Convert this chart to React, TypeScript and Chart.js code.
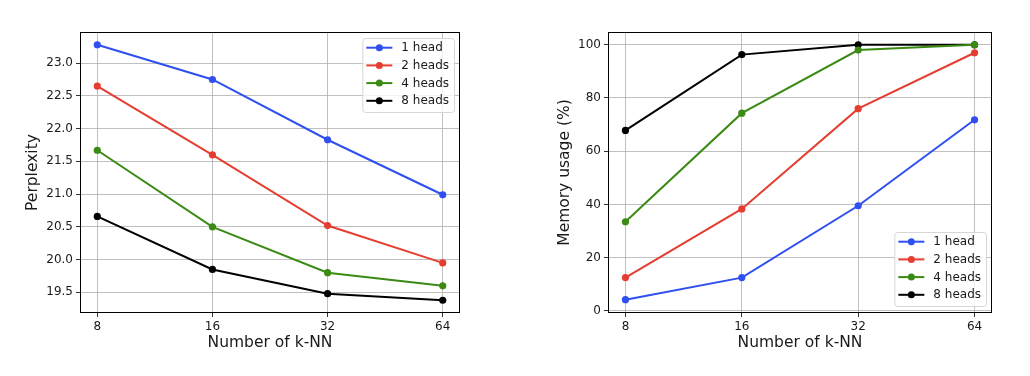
import React, { useEffect, useRef } from "react";
import { Chart, registerables } from "chart.js";

Chart.register(...registerables);

const kNN = ["8", "16", "32", "64"];
const seriesLabels = ["1 head", "2 heads", "4 heads", "8 heads"];
const seriesColors = ["#2f4ff0", "#e53e30", "#3b8a14", "#000000"];

const pplOneHead = [23.28, 22.75, 21.83, 20.99];
const pplTwoHeads = [22.65, 21.6, 20.52, 19.95];
const pplFourHeads = [21.67, 20.5, 19.8, 19.6];
const pplEightHeads = [20.66, 19.85, 19.48, 19.38];

const memOneHead = [4.2, 12.5, 39.5, 71.8];
const memTwoHeads = [12.5, 38.3, 76, 97];
const memFourHeads = [33.5, 74.3, 98, 100];
const memEightHeads = [67.8, 96.3, 100, 100];

const FONT = "'DejaVu Sans', sans-serif";

const frameLegendPlugin = {
  id: "frameLegend",
  afterDraw(chart: any) {
    const { ctx, chartArea } = chart;
    const opts = chart.options.plugins.frameLegend || {};
    ctx.save();
    ctx.strokeStyle = "#000";
    ctx.lineWidth = 1;
    ctx.strokeRect(
      Math.round(chartArea.left) + 0.5,
      Math.round(chartArea.top) + 0.5,
      Math.round(chartArea.right - chartArea.left) - 1,
      Math.round(chartArea.bottom - chartArea.top) - 1
    );
    // legend
    ctx.font = `12px ${FONT}`;
    const ds = chart.data.datasets;
    let maxW = 0;
    ds.forEach((d: any) => {
      maxW = Math.max(maxW, ctx.measureText(d.label).width);
    });
    const w = 39 + maxW + 5;
    const rowH = 17.7;
    const h = 74;
    const x0 = chartArea.right - 6 - w;
    const y0 = opts.pos === "lower" ? chartArea.bottom - 7 - h : chartArea.top + 6;
    ctx.globalAlpha = 0.8;
    ctx.fillStyle = "#fff";
    ctx.beginPath();
    (ctx as any).roundRect(x0 + 0.5, y0 + 0.5, w, h, 3);
    ctx.fill();
    ctx.globalAlpha = 1;
    ctx.strokeStyle = "#d6d6d6";
    ctx.lineWidth = 1;
    ctx.stroke();
    ds.forEach((d: any, i: number) => {
      const y = y0 + 9.7 + i * rowH;
      ctx.strokeStyle = d.borderColor;
      ctx.lineWidth = 2;
      ctx.beginPath();
      ctx.moveTo(x0 + 4, y);
      ctx.lineTo(x0 + 30, y);
      ctx.stroke();
      ctx.fillStyle = d.borderColor;
      ctx.beginPath();
      ctx.arc(x0 + 17, y, 3.5, 0, Math.PI * 2);
      ctx.fill();
      ctx.fillStyle = "#1a1a1a";
      ctx.textBaseline = "middle";
      ctx.textAlign = "left";
      ctx.fillText(d.label, x0 + 39, y + 0.5);
    });
    ctx.restore();
  },
};

function makeConfig(
  series: number[][],
  yMin: number,
  yMax: number,
  step: number,
  yTitle: string,
  decimals: number,
  yWidth: number,
  padRight: number,
  legendPos: string,
  yTitlePad: number
): any {
  return {
    type: "line",
    data: {
      datasets: series.map((vals, i) => ({
        label: seriesLabels[i],
        data: vals.map((v, j) => ({ x: j, y: v })),
        borderColor: seriesColors[i],
        backgroundColor: seriesColors[i],
        borderWidth: 2,
        pointRadius: 3.6,
        pointBorderWidth: 0,
        pointBackgroundColor: seriesColors[i],
        tension: 0,
      })),
    },
    options: {
      animation: false,
      responsive: false,
      layout: { padding: { left: 0, right: padRight, top: 32, bottom: 0 } },
      plugins: {
        legend: { display: false },
        tooltip: { enabled: false },
        frameLegend: { pos: legendPos },
      },
      scales: {
        x: {
          type: "linear",
          min: -0.15,
          max: kNN.length - 1 + 0.15,
          afterBuildTicks: (s: any) => {
            s.ticks = kNN.map((_, i) => ({ value: i }));
          },
          afterFit: (s: any) => {
            s.height = 376 - 313;
          },
          ticks: {
            callback: (v: any) => kNN[v],
            font: { family: FONT, size: 12 },
            color: "#1a1a1a",
            padding: 3,
            maxRotation: 0,
          },
          grid: {
            color: "#b0b0b0",
            lineWidth: 0.8,
            tickColor: "#000",
            tickLength: 4,
          },
          border: { display: false },
          title: {
            display: true,
            text: "Number of k-NN",
            font: { family: FONT, size: 15.5 },
            color: "#1a1a1a",
            padding: { top: 0, bottom: 24 },
          },
        },
        y: {
          type: "linear",
          min: yMin,
          max: yMax,
          afterFit: (s: any) => {
            s.width = yWidth;
          },
          ticks: {
            stepSize: step,
            includeBounds: false,
            callback: (v: any) => Number(v).toFixed(decimals),
            font: { family: FONT, size: 12 },
            color: "#1a1a1a",
            padding: 3,
          },
          grid: {
            color: "#b0b0b0",
            lineWidth: 0.8,
            tickColor: "#000",
            tickLength: 4,
          },
          border: { display: false },
          title: {
            display: true,
            text: yTitle,
            font: { family: FONT, size: 15.5 },
            color: "#1a1a1a",
            padding: { top: yTitlePad, bottom: 0 },
          },
        },
      },
    },
    plugins: [frameLegendPlugin],
  };
}

export default function App() {
  const leftRef = useRef<HTMLCanvasElement>(null);
  const rightRef = useRef<HTMLCanvasElement>(null);

  useEffect(() => {
    const left = new Chart(
      leftRef.current as HTMLCanvasElement,
      makeConfig(
        [pplOneHead, pplTwoHeads, pplFourHeads, pplEightHeads],
        19.185,
        23.475,
        0.5,
        "Perplexity",
        1,
        80,
        515 - 460,
        "upper",
        24
      )
    );
    const right = new Chart(
      rightRef.current as HTMLCanvasElement,
      makeConfig(
        [memOneHead, memTwoHeads, memFourHeads, memEightHeads],
        -0.8,
        104.8,
        20,
        "Memory usage (%)",
        0,
        608 - 515,
        1030 - 992,
        "lower",
        41
      )
    );
    return () => {
      left.destroy();
      right.destroy();
    };
  }, []);

  return (
    <div
      style={{
        position: "fixed",
        left: 0,
        top: 0,
        width: 1030,
        height: 376,
        background: "#fff",
      }}
    >
      <canvas
        ref={leftRef}
        width={515}
        height={376}
        style={{ position: "absolute", left: 0, top: 0, width: 515, height: 376 }}
      />
      <canvas
        ref={rightRef}
        width={515}
        height={376}
        style={{ position: "absolute", left: 515, top: 0, width: 515, height: 376 }}
      />
    </div>
  );
}
